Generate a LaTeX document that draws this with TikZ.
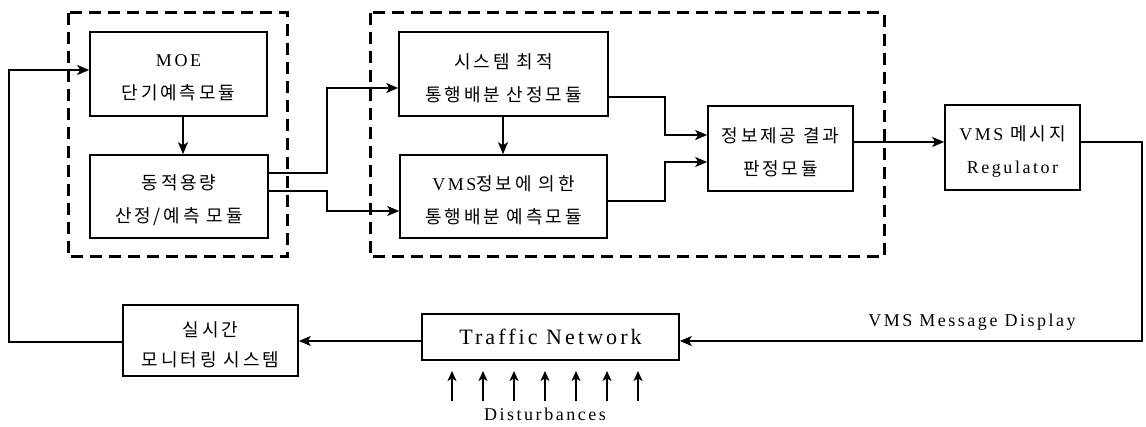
\documentclass[tikz,border=0pt]{standalone}
\usepackage{fontspec}
\setmainfont{Liberation Serif}[LetterSpace=14]
\newfontfamily\krfont{Noto Sans CJK KR}[LetterSpace=16]
\newcommand\hg[1]{{\krfont #1}}
\newcommand\strK{\rule{0pt}{23pt}}
\newcommand\strL{\rule{0pt}{19pt}}
\usetikzlibrary{arrows.meta,calc}
\begin{document}
\begin{tikzpicture}[x=1pt,y=-1pt,
  line width=1.6pt,
  arr/.style={-{Stealth[length=12pt,width=10pt,inset=3pt]}},
  blk/.style={draw,line width=1.6pt,inner sep=0pt,align=center,font=\fontsize{18}{33}\selectfont},
  grp/.style={draw,line width=3pt,dash pattern=on 12pt off 7pt},
  lbl/.style={font=\fontsize{18}{20}\selectfont}]
\useasboundingbox (0,0) rectangle (1146,427);
% groups
\draw[grp] (68,13) rectangle (287,257);
\draw[grp] (370,13) rectangle (884,257);
% blocks
\node[blk,minimum width=177pt,minimum height=84pt] (moe) at (178.5,74) {\strL MOE\\\hg{단기예측모듈}};
\node[blk,minimum width=178pt,minimum height=83pt] (dyn) at (179,196.5) {\strK\hg{동적용량}\\\hg{산정/예측 모듈}};
\node[blk,minimum width=209pt,minimum height=84pt] (sys) at (503.5,74) {\strK\hg{시스템 최적}\\\hg{통행배분 산정모듈}};
\node[blk,minimum width=207pt,minimum height=83pt] (vmsi) at (503.5,196.5) {\strK VMS\hg{정보에 의한}\\\hg{통행배분 예측모듈}};
\node[blk,minimum width=145pt,minimum height=85pt] (info) at (780.5,148.5) {\strK\hg{정보제공 결과}\\\hg{판정모듈}};
\node[blk,minimum width=135pt,minimum height=85pt] (reg) at (1012.5,147.5) {\strK VMS \hg{메시지}\\Regulator};
\node[blk,minimum width=175pt,minimum height=71pt,font=\fontsize{18}{30}\selectfont] (mon) at (210.5,340.5) {\strK\hg{실시간}\\\hg{모니터링 시스템}};
\node[blk,minimum width=257pt,minimum height=46pt,font=\fontsize{22}{24}\selectfont] (net) at (550.5,337) {Traffic Network};
% connectors
\draw[arr] (moe.south -| 183,0) -- (dyn.north -| 183,0);
\draw[arr] (dyn.east |- 0,173) -- (327,173) |- (sys.west |- 0,88);
\draw[arr] (dyn.east |- 0,191) -- (327,191) |- (vmsi.west |- 0,211);
\draw[arr] (sys.south -| 503,0) -- (vmsi.north -| 503,0);
\draw[arr] (sys.east |- 0,97) -- (665,97) |- (info.west |- 0,135);
\draw[arr] (vmsi.east |- 0,201) -- (665,201) |- (info.west |- 0,162);
\draw[arr] (info.east |- 0,142) -- (reg.west |- 0,142);
\coordinate (rc) at (1142,142);
\draw[arr] (reg.east |- 0,142) -- (rc) |- (net.east |- 0,341);
\node[lbl] (vmd) at (972,322) {VMS Message Display};
\draw[arr] (net.west |- 0,341) -- (mon.east |- 0,341);
\coordinate (lc) at (9,342);
\draw[arr] (mon.west |- 0,342) -- (lc) |- (moe.west |- 0,70);
% disturbances
\foreach \i/\x in {1/452,2/483,3/514,4/545,5/576,6/607,7/638}{
  \coordinate (d\i) at (\x,401);
  \coordinate (t\i) at (\x,371);
  \draw[line width=1.2pt,-{Stealth[length=10pt,width=9pt,inset=2.5pt]}] (d\i) -- (t\i);
}
\node[lbl] (dist) at (545,414) {Disturbances};
\end{tikzpicture}
\end{document}
